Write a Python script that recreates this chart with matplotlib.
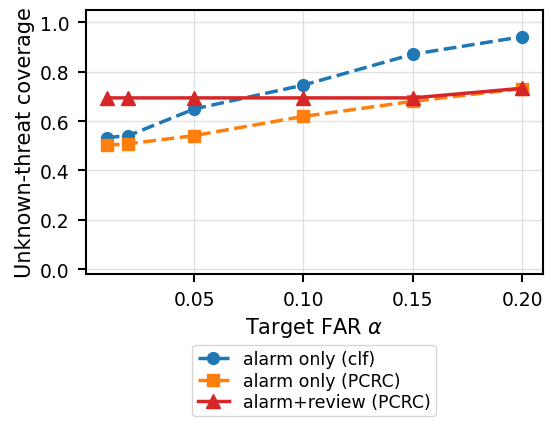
import matplotlib
matplotlib.use('Agg')
import matplotlib.pyplot as plt

alpha = [0.01, 0.02, 0.05, 0.10, 0.15, 0.20]
clf_alarm = [0.533, 0.541, 0.649, 0.746, 0.871, 0.942]
pcrc_alarm = [0.502, 0.508, 0.541, 0.619, 0.680, 0.732]
pcrc_review = [0.694, 0.694, 0.694, 0.694, 0.694, 0.733]

labels = ['alarm only (clf)', 'alarm only (PCRC)', 'alarm+review (PCRC)']

fig = plt.figure(figsize=(5.5, 4.27), dpi=100)
ax = fig.add_axes([0.156, 0.356, 0.831, 0.618])

ax.plot(alpha, clf_alarm, '--o', color='#1f77b4', lw=2.5, ms=8.5, label=labels[0])
ax.plot(alpha, pcrc_alarm, '--s', color='#ff7f0e', lw=2.5, ms=8.5, label=labels[1])
ax.plot(alpha, pcrc_review, '-^', color='#d62728', lw=2.5, ms=9.5, label=labels[2])

ax.set_ylim(-0.02, 1.05)
ax.set_xticks([0.05, 0.10, 0.15, 0.20])
ax.set_xticklabels(['0.05', '0.10', '0.15', '0.20'])
ax.set_yticks([0.0, 0.2, 0.4, 0.6, 0.8, 1.0])
ax.grid(True, color='#d9d9d9', lw=1, alpha=0.8)
ax.tick_params(labelsize=13.5, width=1.5, length=6, pad=5.5)
for s in ax.spines.values():
    s.set_linewidth(1.5)

ax.set_xlabel(r'Target FAR $\alpha$', fontsize=15)
ax.set_ylabel('Unknown-threat coverage', fontsize=15)

fig.legend(loc='upper center', bbox_to_anchor=(0.571, 0.21), fontsize=12.5,
           handlelength=1.8, labelspacing=0.2, borderpad=0.3, framealpha=0.8)

fig.savefig('out.png', dpi=100)
